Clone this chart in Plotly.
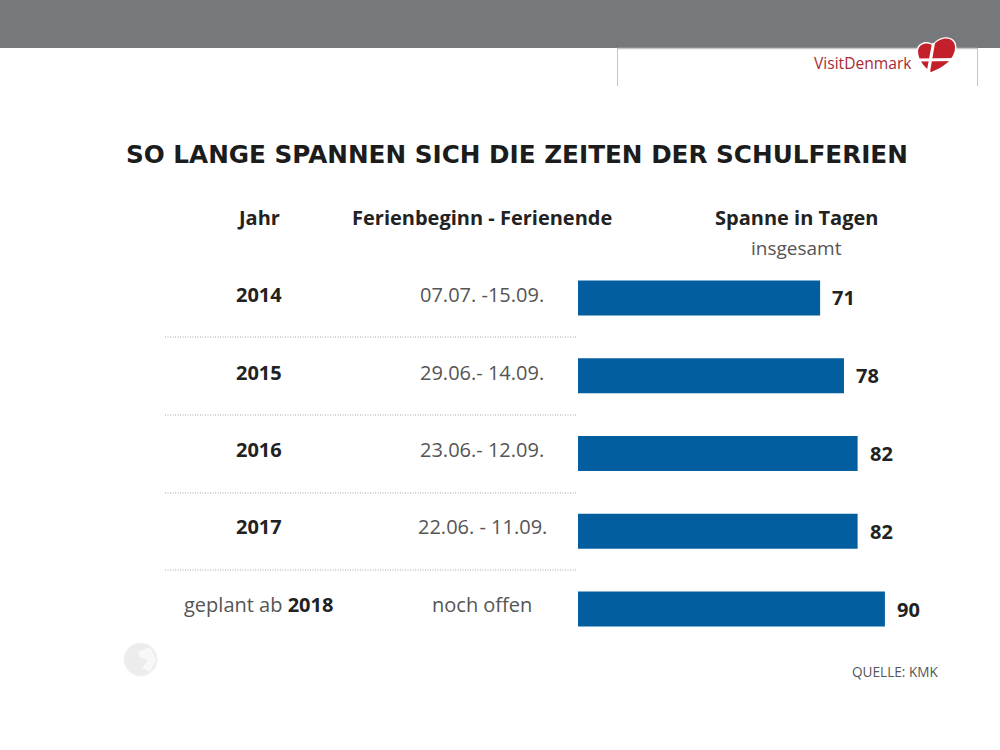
import plotly.graph_objects as go

categories = ["2014", "2015", "2016", "2017", "geplant ab 2018"]
year_labels = ["<b>2014</b>", "<b>2015</b>", "<b>2016</b>", "<b>2017</b>",
               "<span style='color:#555555'>geplant ab</span> <b>2018</b>"]
periods = ["07.07. -15.09.", "29.06.- 14.09.", "23.06.- 12.09.", "22.06. - 11.09.", "noch offen"]
days = [71, 78, 82, 82, 90]

W, H = 1000, 750
FONT = "Open Sans"
DARK = "#222222"
GREY = "#555555"
BLUE = "#035e9f"

def px(x): return x / W
def py(y): return 1 - y / H
def P(a, b): return f"{px(a):.5f},{py(b):.5f}"
def poly(points):
    return "M " + " L ".join(P(a, b) for a, b in points) + " Z"
def heart(dx=0.0):
    return (f"M {P(933-dx*0.2, 46-dx)} C {P(930, 42-dx)} {P(919-dx, 42-dx)} {P(918-dx, 51)} "
            f"C {P(918-dx, 60)} {P(925, 68+dx)} {P(931, 72+dx)} "
            f"C {P(942, 68+dx)} {P(955+dx, 60)} {P(955+dx, 47)} "
            f"C {P(955+dx, 37-dx)} {P(941, 35-dx)} {P(933-dx*0.2, 46-dx)} Z")

fig = go.Figure(go.Bar(
    x=days, y=categories, orientation="h", marker=dict(color=BLUE, line=dict(width=0)),
    hoverinfo="skip", width=0.45,
))

shapes = [
    dict(type="rect", xref="paper", yref="paper", x0=0, x1=1, y0=py(48), y1=1,
         fillcolor="#77787c", line_width=0, layer="below"),
    dict(type="line", xref="paper", yref="paper", x0=px(617), x1=px(977), y0=py(48.5), y1=py(48.5),
         line=dict(color="#c8c8c8", width=1.5)),
    dict(type="line", xref="paper", yref="paper", x0=px(617.5), x1=px(617.5), y0=py(48), y1=py(86),
         line=dict(color="#c4c4c4", width=1)),
    dict(type="line", xref="paper", yref="paper", x0=px(977.5), x1=px(977.5), y0=py(48), y1=py(86),
         line=dict(color="#c4c4c4", width=1)),
]
for y in [337, 415, 493, 570]:
    shapes.append(dict(type="line", xref="paper", yref="paper", x0=px(165), x1=px(577), y0=py(y), y1=py(y),
                       line=dict(color="#a8a8a8", width=1, dash="1px,1.5px")))

# heart logo
shapes.append(dict(type="path", xref="paper", yref="paper", path=heart(1.5), fillcolor="white", line_width=0))
shapes.append(dict(type="path", xref="paper", yref="paper", path=heart(0), fillcolor="#c4202b", line_width=0))
shapes.append(dict(type="path", xref="paper", yref="paper", path=poly([(932, 43), (935, 43), (930, 72), (927, 70)]),
                   fillcolor="white", line_width=0))
shapes.append(dict(type="path", xref="paper", yref="paper", path=poly([(919, 58.5), (956, 58), (955, 61), (920, 61.5)]),
                   fillcolor="white", line_width=0))
# globe
shapes.append(dict(type="circle", xref="paper", yref="paper", x0=px(124), x1=px(157), y0=py(676), y1=py(643),
                   fillcolor="#ececec", line=dict(color="#f4f4f4", width=1)))
shapes.append(dict(type="path", xref="paper", yref="paper",
                   path=poly([(138, 652), (150, 647), (156, 660), (150, 672), (142, 668), (148, 660), (140, 657)]),
                   fillcolor="#f8f8f8", line_width=0))

def note(x, y, text, size, color=DARK, anchor="center", family=FONT):
    return dict(xref="paper", yref="paper", x=px(x), y=py(y), text=text, showarrow=False, xanchor=anchor,
                yanchor="middle", font=dict(family=family, size=size, color=color))

annotations = [
    note(914, 63, "VisitDenmark", 15.6, "#a82a35", "right"),
    note(124, 154, "<b>SO LANGE SPANNEN SICH DIE ZEITEN DER SCHULFERIEN</b>", 24.7, "#1c1c1c", "left", "DejaVu Sans"),
    note(258.5, 217.5, "<b>Jahr</b>", 20),
    note(482, 217.5, "<b>Ferienbeginn - Ferienende</b>", 20),
    note(796, 217.5, "<b>Spanne in Tagen</b>", 20),
    note(796, 248, "insgesamt", 19, GREY),
    note(940, 671.5, "QUELLE: KMK", 13.6, GREY, "right"),
]
for lab, per, yc in zip(year_labels, periods, [294, 372, 449, 526, 604]):
    annotations.append(note(258.5, yc, lab, 20))
    annotations.append(note(482, yc, per, 20, GREY))
order = categories[::-1]
for cat, d in zip(categories, days):
    annotations.append(dict(xref="x", yref="y", x=d, y=order.index(cat), text=f"<b>{d}</b>", showarrow=False,
                            xanchor="left", yanchor="middle", xshift=10, yshift=0,
                            font=dict(family=FONT, size=20, color=DARK)))

fig.update_layout(
    width=W, height=H, margin=dict(l=0, r=0, t=0, b=0), showlegend=False,
    paper_bgcolor="white", plot_bgcolor="rgba(0,0,0,0)",
    xaxis=dict(domain=[px(578), px(919)], range=[0, 100], visible=False),
    yaxis=dict(type="category", domain=[py(648), py(259)], categoryorder="array", categoryarray=order,
               range=[-0.5, 4.5], anchor="free", position=px(578), visible=False),
    shapes=shapes, annotations=annotations,
)
fig.write_html("out.html", config={"displayModeBar": False},
               post_script="document.body.style.margin='0';document.documentElement.style.overflow='hidden';")
